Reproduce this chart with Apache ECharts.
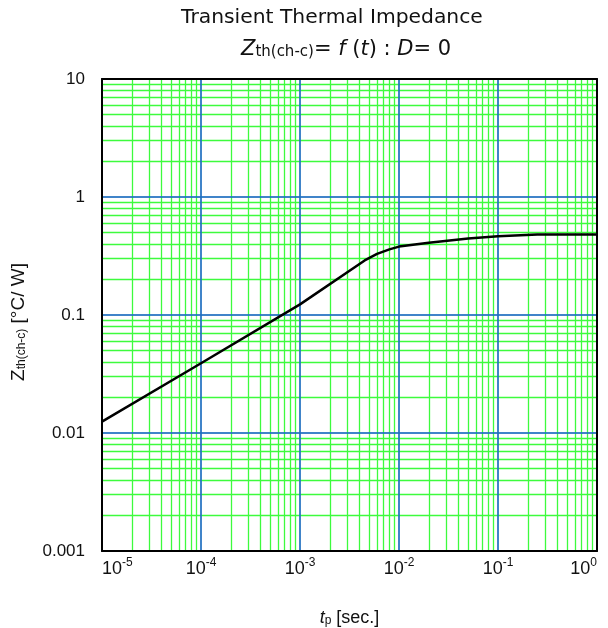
<!DOCTYPE html>
<html>
<head>
<meta charset="utf-8">
<script src="https://cdn.jsdelivr.net/npm/echarts@6/dist/echarts.min.js"></script>
<style>html,body{margin:0;padding:0;background:#fff;}#c{width:608px;height:628px;}</style>
</head>
<body>
<div id="c"></div>
<script>
// ---- data ----
const pulseTime = [1e-5, 1e-4, 1e-3, 4.5e-3, 6e-3, 8e-3, 1e-2, 2e-2, 5e-2, 1e-1, 2.5e-1, 1];
const zth = [0.0125, 0.039, 0.123, 0.29, 0.33, 0.36, 0.38, 0.41, 0.445, 0.465, 0.48, 0.48];
const xTickValues = [1e-5, 1e-4, 1e-3, 1e-2, 1e-1, 1];
const xTickExps = ['-5', '-4', '-3', '-2', '-1', '0'];
const yTickValues = [0.001, 0.01, 0.1, 1, 10];
const yTickLabels = ['0.001', '0.01', '0.1', '1', '10'];
const minorMult = [2, 3, 4, 5, 6, 7, 8, 9];

const xMajorInner = xTickValues.slice(1, -1);
const yMajorInner = yTickValues.slice(1, -1);
const xMinor = [], yMinor = [];
xTickValues.slice(0, -1).forEach(d => minorMult.forEach(m => xMinor.push(d * m)));
yTickValues.slice(0, -1).forEach(d => minorMult.forEach(m => yMinor.push(d * m)));

function nearestIdx(arr, v) {
  let best = 0, bd = Infinity;
  arr.forEach((a, i) => { const d = Math.abs(Math.log10(a) - Math.log10(v)); if (d < bd) { bd = d; best = i; } });
  return best;
}

const chart = echarts.init(document.getElementById('c'));
const green = '#3dfb3d';
const blue = '#1f6fc0';

chart.setOption({
  animation: false,
  backgroundColor: '#ffffff',
  graphic: [
    { type: 'text', left: 181, top: 8, silent: true,
      style: { text: 'Transient Thermal Impedance', font: '20.3px "DejaVu Sans"', fill: '#111' } },
    { type: 'text', left: 241, top: 39, silent: true,
      style: {
        text: '{zi|Z}{sub|th(ch-c)}{n|= }{zi|f}{n| (}{zi|t}{n|) : }{zi|D}{n|= 0}',
        rich: {
          zi: { font: 'italic 21px "DejaVu Sans"', fill: '#111', verticalAlign: 'bottom', lineHeight: 24 },
          n: { font: '21px "DejaVu Sans"', fill: '#111', verticalAlign: 'bottom', lineHeight: 24 },
          sub: { font: '15px "DejaVu Sans"', fill: '#111', verticalAlign: 'bottom', lineHeight: 24 }
        }
      } },
    { type: 'text', x: 8, y: 322, rotation: Math.PI / 2, silent: true,
      style: {
        text: '{zi|Z}{sub|th(ch-c)}{n| [°C/ W]}', align: 'center', verticalAlign: 'top',
        rich: {
          zi: { font: '19px "Liberation Sans"', fill: '#111', verticalAlign: 'bottom', lineHeight: 20 },
          sub: { font: '12px "Liberation Sans"', fill: '#111', verticalAlign: 'bottom', lineHeight: 20 },
          n: { font: '19px "Liberation Sans"', fill: '#111', verticalAlign: 'bottom', lineHeight: 20 }
        }
      } }
  ],
  grid: { left: 102, right: 11, top: 79, bottom: 77, show: false, outerBoundsMode: 'none', containLabel: false },
  xAxis: [{
    type: 'log', logBase: 10, min: 1e-5, max: 1, position: 'bottom', z: 10,
    name: '{ti|t}{sub|p}{n| [sec.]}', nameLocation: 'middle', nameGap: 56,
    nameTextStyle: { rich: {
      ti: { fontFamily: 'Liberation Sans', fontStyle: 'italic', fontSize: 18, color: '#111', verticalAlign: 'bottom', lineHeight: 20 },
      sub: { fontFamily: 'Liberation Sans', fontSize: 12, color: '#111', verticalAlign: 'bottom', lineHeight: 20 },
      n: { fontFamily: 'Liberation Sans', fontSize: 18, color: '#111', verticalAlign: 'bottom', lineHeight: 20 }
    } },
    axisLine: { show: true, onZero: false, lineStyle: { color: '#000', width: 2 } },
    axisTick: { show: false },
    splitLine: { show: false },
    axisLabel: {
      margin: 6, showMinLabel: true, showMaxLabel: true, alignMinLabel: 'left', alignMaxLabel: 'right',
      formatter: function (v) { return '{b|10}{sup|' + xTickExps[nearestIdx(xTickValues, v)] + '}'; },
      rich: {
        b: { fontFamily: 'Liberation Sans', fontSize: 18, color: '#111', lineHeight: 21, verticalAlign: 'bottom' },
        sup: { fontFamily: 'Liberation Sans', fontSize: 12, color: '#111', lineHeight: 21, verticalAlign: 'top' }
      }
    }
  }, {
    type: 'log', logBase: 10, min: 1e-5, max: 1, position: 'top', z: 10,
    axisLine: { show: true, onZero: false, lineStyle: { color: '#000', width: 2 } },
    axisTick: { show: false }, axisLabel: { show: false }, splitLine: { show: false }
  }],
  yAxis: [{
    type: 'log', logBase: 10, min: 0.001, max: 10, position: 'left', z: 10,
    axisLine: { show: true, onZero: false, lineStyle: { color: '#000', width: 2 } },
    axisTick: { show: false },
    splitLine: { show: false },
    axisLabel: {
      margin: 17, fontFamily: 'Liberation Sans', fontSize: 17, color: '#111',
      formatter: function (v) { return yTickLabels[nearestIdx(yTickValues, v)]; }
    }
  }, {
    type: 'log', logBase: 10, min: 0.001, max: 10, position: 'right', z: 10,
    axisLine: { show: true, onZero: false, lineStyle: { color: '#000', width: 2 } },
    axisTick: { show: false }, axisLabel: { show: false }, splitLine: { show: false }
  }],
  series: [
    {
      name: 'minorGrid', type: 'line', data: [], z: 1, silent: true,
      markLine: {
        silent: true, symbol: 'none', animation: false, precision: 12, label: { show: false },
        lineStyle: { color: green, width: 1.3, type: 'solid' },
        emphasis: { disabled: true },
        data: xMinor.map(v => ({ xAxis: v })).concat(yMinor.map(v => ({ yAxis: v })))
      }
    },
    {
      name: 'majorGrid', type: 'line', data: [], z: 1.5, silent: true,
      markLine: {
        silent: true, symbol: 'none', animation: false, precision: 12, label: { show: false },
        lineStyle: { color: blue, width: 2, type: 'solid', opacity: 0.85 },
        emphasis: { disabled: true },
        data: xMajorInner.map(v => ({ xAxis: v })).concat(yMajorInner.map(v => ({ yAxis: v })))
      }
    },
    {
      name: 'Zth', type: 'line', z: 5, symbol: 'none', smooth: false,
      lineStyle: { color: '#000', width: 2.5 },
      data: pulseTime.map((t, i) => [t, zth[i]])
    }
  ]
});
</script>
</body>
</html>
